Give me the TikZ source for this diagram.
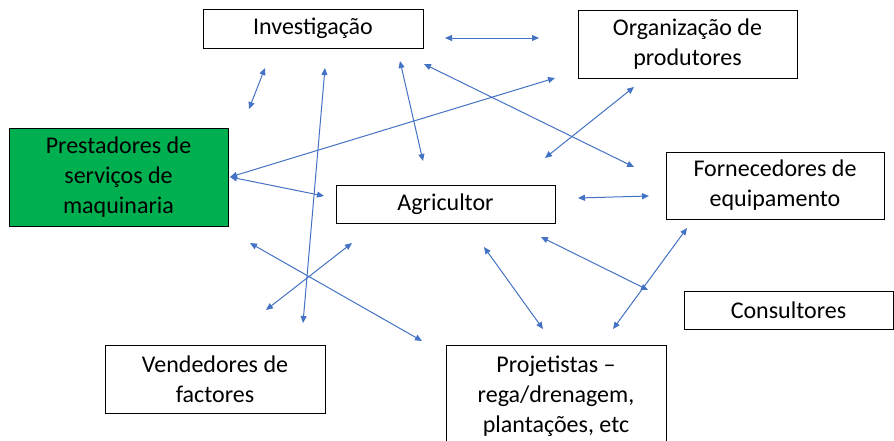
\documentclass[tikz,border=0pt]{standalone}
\usepackage{fontspec}
\setmainfont{Carlito}
\usetikzlibrary{arrows.meta}
\definecolor{arrowblue}{HTML}{4472C4}
\definecolor{boxgreen}{HTML}{00B050}
\begin{document}
\begin{tikzpicture}[x=1pt,y=-1pt,
  box/.style={draw=black, line width=0.9pt, align=center, font=\fontsize{24}{30}\selectfont, inner sep=0pt},
  link/.style={draw=arrowblue, line width=1pt, {Triangle[length=7pt,width=6pt]}-{Triangle[length=7pt,width=6pt]}}]
\useasboundingbox (0,0) rectangle (894,440);
\fill[white] (0,0) rectangle (894,440);

\node[box, minimum width=220pt, minimum height=39pt] (inv) at (313,28.5) {Investigação};
\node[box, minimum width=219pt, minimum height=68pt] (org) at (687.5,44) {Organização de\\produtores};
\node[box, fill=boxgreen, minimum width=219pt, minimum height=98pt] (pre) at (118.5,177) {Prestadores de\\serviços de\\maquinaria};
\node[box, minimum width=219pt, minimum height=38pt] (agr) at (445.5,204) {Agricultor};
\node[box, minimum width=218pt, minimum height=67pt] (for) at (775,185.5) {Fornecedores de\\equipamento};
\node[box, minimum width=209pt, minimum height=38pt] (con) at (788.5,310) {Consultores};
\node[box, minimum width=220pt, minimum height=68pt] (ven) at (215,379) {Vendedores de\\factores};
\node[box, minimum width=220pt, minimum height=103pt] (pro) at (556,396.5) {Projetistas –\\rega/drenagem,\\plantações, etc};

% arrow end points
\coordinate (a1) at (445,38);  \coordinate (b1) at (539,38);
\coordinate (a2) at (265,68);  \coordinate (b2) at (249,109);
\coordinate (a3) at (325,68);  \coordinate (b3) at (303,323);
\coordinate (a4) at (400,61);  \coordinate (b4) at (423,161);
\coordinate (a5) at (424,64);  \coordinate (b5) at (634,167);
\coordinate (a6) at (230,177); \coordinate (b6) at (555,78);
\coordinate (a7) at (230,177); \coordinate (b7) at (324,196);
\coordinate (a8) at (634,87);  \coordinate (b8) at (545,158);
\coordinate (a9) at (578,198); \coordinate (b9) at (649,196);
\coordinate (a10) at (250,243); \coordinate (b10) at (422,341);
\coordinate (a11) at (352,243); \coordinate (b11) at (266,310);
\coordinate (a12) at (484,247); \coordinate (b12) at (543,329);
\coordinate (a13) at (541,237); \coordinate (b13) at (648,290);
\coordinate (a14) at (687,228); \coordinate (b14) at (613,329);

\foreach \i in {1,...,14} {\draw[link] (a\i) -- (b\i);}
\end{tikzpicture}
\end{document}
